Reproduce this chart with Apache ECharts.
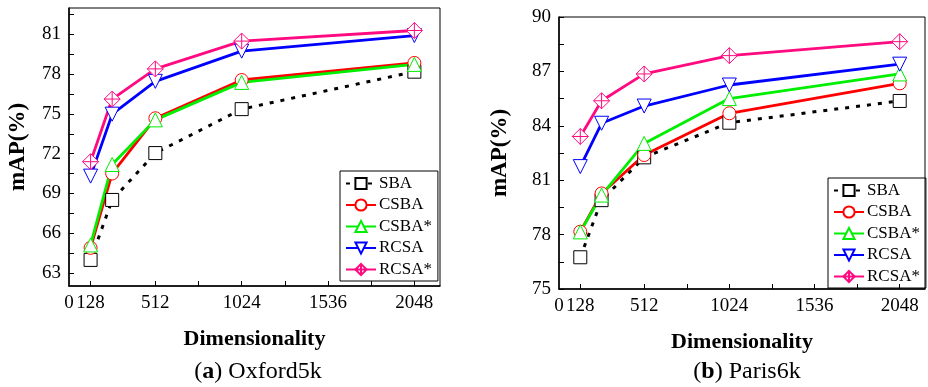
<!DOCTYPE html>
<html>
<head>
<meta charset="utf-8">
<script src="https://cdn.jsdelivr.net/npm/echarts@6/dist/echarts.min.js"></script>
<style>
  html, body { margin: 0; padding: 0; background: #fff; }
  #chart { width: 928px; height: 387px; }
</style>
</head>
<body>
<div id="chart"></div>
<script>
// dimensions on the x axis
const dims = [128, 256, 512, 1024, 2048];
const seriesNames = ["SBA", "CSBA", "CSBA*", "RCSA", "RCSA*"];

// Oxford5k mAP(%)
const oxfordSBA = [63.97, 68.5, 72.04, 75.36, 78.19];
const oxfordCSBA = [64.88, 70.5, 74.67, 77.56, 78.85];
const oxfordCSBAs = [65.1, 71.18, 74.55, 77.38, 78.74];
const oxfordRCSA = [70.3, 74.98, 77.46, 79.74, 80.92];
const oxfordRCSAs = [71.39, 76.12, 78.4, 80.5, 81.3];

// Paris6k mAP(%)
const parisSBA = [76.75, 79.9, 82.26, 84.17, 85.37];
const parisCSBA = [78.16, 80.27, 82.39, 84.69, 86.34];
const parisCSBAs = [78.15, 80.18, 83.03, 85.5, 86.86];
const parisRCSA = [81.75, 84.14, 85.09, 86.25, 87.4];
const parisRCSAs = [83.41, 85.38, 86.86, 87.87, 88.64];

// tick labels
const xLabelValues = [0, 128, 512, 1024, 1536, 2048];
const xTickValues = [128, 512, 768, 1024, 1280, 1536, 1792, 2048];
const oxfordYLabels = [63, 66, 69, 72, 75, 78, 81];
const oxfordYTicks = [63, 64.5, 66, 67.5, 69, 70.5, 72, 73.5, 75, 76.5, 78, 79.5, 81, 82.5];
const parisYLabels = [75, 78, 81, 84, 87, 90];
const parisYTicks = [75, 76.5, 78, 79.5, 81, 82.5, 84, 85.5, 87, 88.5, 90];

const FONT = "Liberation Serif";
const diamondCross = "path://M10,0 L20,10 L10,20 L0,10 Z M10,0 L10,20 M0,10 L20,10";

const styles = {
  "SBA": { color: "#000000", symbol: "rect", rotate: 0, dash: [4, 7], size: 13 },
  "CSBA": { color: "#ff0000", symbol: "circle", rotate: 0, dash: "solid", size: 13 },
  "CSBA*": { color: "#00ee00", symbol: "triangle", rotate: 0, dash: "solid", size: 14 },
  "RCSA": { color: "#0000ff", symbol: "triangle", rotate: 180, dash: "solid", size: 14 },
  "RCSA*": { color: "#ff0a80", symbol: diamondCross, rotate: 0, dash: "solid", size: 16 },
};

function makeSeries(name, values, idx) {
  const s = styles[name];
  return {
    name: name,
    type: "line",
    xAxisIndex: idx,
    yAxisIndex: idx,
    data: dims.map((d, i) => [d, values[i]]),
    symbol: s.symbol,
    symbolRotate: s.rotate,
    symbolSize: s.size,
    showAllSymbol: true,
    lineStyle: { color: s.color, width: name === "SBA" ? 3 : 2.8, type: s.dash },
    itemStyle: { color: "#ffffff", borderColor: s.color, borderWidth: 1 },
    emphasis: { disabled: true },
    animation: false,
  };
}

function xAxis(idx) {
  return {
    type: "value",
    gridIndex: idx,
    min: 0,
    max: 2200,
    name: "Dimensionality",
    nameLocation: "middle",
    nameGap: 42,
    nameTextStyle: { fontFamily: FONT, fontWeight: "bold", fontSize: 22, color: "#000" },
    axisLine: { lineStyle: { color: "#000", width: 1.5 } },
    axisTick: { inside: true, length: 5, customValues: xTickValues, lineStyle: { color: "#000" } },
    axisLabel: {
      customValues: xLabelValues,
      formatter: (v) => String(v),
      color: "#000", fontFamily: FONT, fontSize: 19, margin: 8,
    },
    splitLine: { show: false },
  };
}

function yAxis(idx, min, max, labels, ticks, gap) {
  return {
    type: "value",
    gridIndex: idx,
    min: min,
    max: max,
    name: "mAP(%)",
    nameLocation: "middle",
    nameGap: gap,
    nameTextStyle: { fontFamily: FONT, fontWeight: "bold", fontSize: 23, color: "#000" },
    axisLine: { show: true, lineStyle: { color: "#000", width: 1.5 } },
    axisTick: { inside: true, length: 5, customValues: ticks, lineStyle: { color: "#000" } },
    axisLabel: {
      customValues: labels,
      formatter: (v) => String(v),
      color: "#000", fontFamily: FONT, fontSize: 19, margin: 8,
    },
    splitLine: { show: false },
  };
}

function legend(left, top) {
  return {
    data: seriesNames,
    orient: "vertical",
    left: left,
    top: top,
    padding: [4, 6, 3, 5],
    itemGap: 4.5,
    itemWidth: 30,
    itemHeight: 14,
    borderColor: "#000",
    borderWidth: 1,
    selectedMode: false,
    textStyle: { fontFamily: FONT, fontSize: 17, color: "#000", padding: [0, 0, 0, -2] },
  };
}

function caption(text, x) {
  return {
    text: text,
    left: x,
    top: 355,
    textAlign: "center",
    textStyle: {
      fontFamily: FONT, fontSize: 24, fontWeight: "normal", color: "#000",
      rich: { b: { fontFamily: FONT, fontSize: 24, fontWeight: "bold", color: "#000" } },
    },
  };
}

const chart = echarts.init(document.getElementById("chart"));
chart.setOption({
  backgroundColor: "#fff",
  animation: false,
  title: [caption("({b|a}) Oxford5k", 253), caption("({b|b}) Paris6k", 742)],
  legend: [legend(340, 171), legend(828, 178)],
  grid: [
    { left: 69, top: 8, width: 371, height: 278, show: true, borderColor: "#000", borderWidth: 1, backgroundColor: "transparent" },
    { left: 559, top: 17, width: 366, height: 272, show: true, borderColor: "#000", borderWidth: 1, backgroundColor: "transparent" },
  ],
  xAxis: [xAxis(0), xAxis(1)],
  yAxis: [
    yAxis(0, 62, 83, oxfordYLabels, oxfordYTicks, 39),
    yAxis(1, 75, 90, parisYLabels, parisYTicks, 47),
  ],
  series: [
    makeSeries("SBA", oxfordSBA, 0),
    makeSeries("CSBA", oxfordCSBA, 0),
    makeSeries("CSBA*", oxfordCSBAs, 0),
    makeSeries("RCSA", oxfordRCSA, 0),
    makeSeries("RCSA*", oxfordRCSAs, 0),
    makeSeries("SBA", parisSBA, 1),
    makeSeries("CSBA", parisCSBA, 1),
    makeSeries("CSBA*", parisCSBAs, 1),
    makeSeries("RCSA", parisRCSA, 1),
    makeSeries("RCSA*", parisRCSAs, 1),
  ],
});
</script>
</body>
</html>
